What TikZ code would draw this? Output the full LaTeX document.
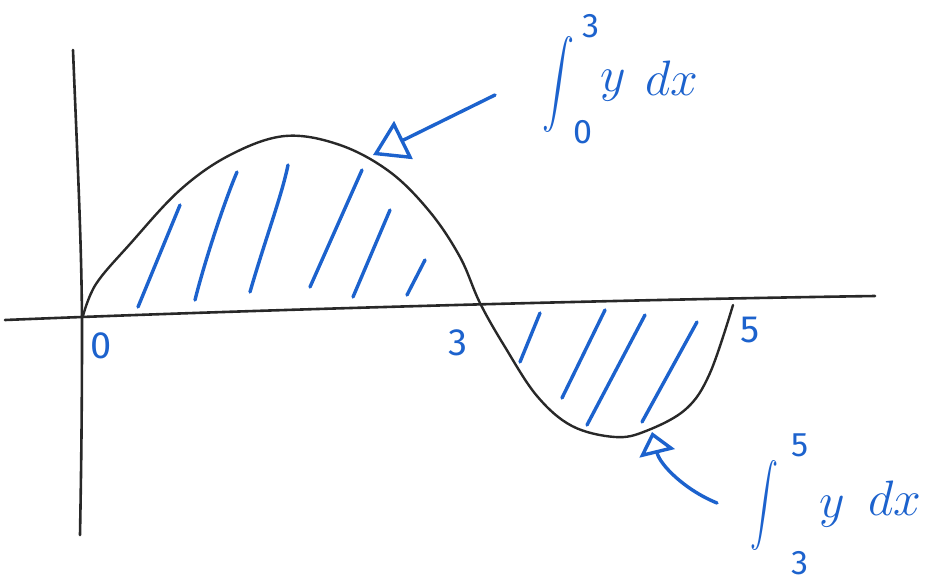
\documentclass[tikz,border=0pt]{standalone}
\usepackage{amsmath}
\usepackage{graphicx}
\usepackage{fontspec}
\setmainfont{Fira Sans}
\usetikzlibrary{arrows.meta}
\definecolor{pen}{RGB}{28,98,205}
\definecolor{ink}{RGB}{40,40,40}
\tikzset{
  axisline/.style={draw=ink, line width=1.3pt, line cap=round},
  curveline/.style={draw=ink, line width=1.2pt, line cap=round, line join=round},
  hatch/.style={draw=pen, line width=1.7pt, line cap=round},
  pointer/.style={draw=pen, line width=1.7pt, line cap=round},
  tick/.style={text=pen, font=\fontsize{19}{19}\selectfont, inner sep=0pt},
  limit/.style={text=pen, font=\fontsize{17}{17}\selectfont, inner sep=0pt},
  intsign/.style={text=pen, inner sep=0pt},
  integrand/.style={text=pen, font=\fontsize{24}{24}\selectfont, inner sep=0pt}
}
\begin{document}
\begin{tikzpicture}[x=0.5pt, y=-0.5pt]
\useasboundingbox (0,0) rectangle (933,585);
% axes
\coordinate (xl) at (5,320);
\coordinate (xr) at (875,296);
\coordinate (yt) at (73,50);
\coordinate (yb) at (80,535);
\draw[axisline] (xl) .. controls (250,310) and (600,300) .. (xr);
\draw[axisline] (yt) .. controls (77,150) and (82,250) .. (82,330) .. controls (82,420) and (81,480) .. (yb);
% curve
\coordinate (o) at (83,316);
\coordinate (c3) at (480,303);
\coordinate (c5) at (733,305);
\draw[curveline] plot[smooth, tension=0.6] coordinates {(83,316) (96,284) (130,244) (180,190) (230,155) (285,136) (340,145) (390,172) (430,212) (460,257) (480,303) (505,347) (537,396) (572,426) (615,437) (646,431) (686,409) (710,373) (733,305)};
% hatching upper
\draw[hatch] (138,307) -- (180,205);
\draw[hatch] (195,300) .. controls (205,260) and (225,200) .. (237,172);
\draw[hatch] (250,292) .. controls (265,240) and (282,195) .. (288,165);
\draw[hatch] (310,287) -- (362,170);
\draw[hatch] (353,297) -- (390,210);
\draw[hatch] (407,295) -- (425,260);
% hatching lower
\draw[hatch] (520,362) -- (540,313);
\draw[hatch] (562,398) -- (605,310);
\draw[hatch] (587,425) -- (645,315);
\draw[hatch] (642,422) -- (697,322);
% tick labels
\node[tick] (l0) at (101,346) {0};
\node[tick] (l3) at (458,343) {3};
\node[tick] (l5) at (750,330) {5};
% integral 0..3
\node[intsign] (s1) at (558,84) {\resizebox*{16pt}{48pt}{$\displaystyle\int$}};
\node[limit] (s1u) at (591,26) {3};
\node[limit] (s1l) at (583,132) {0};
\node[integrand] (s1y) at (613,86) {$y$};
\node[integrand] (s1d) at (672,78) {$dx$};
% integral 3..5
\node[intsign] (s2) at (764,505) {\resizebox*{14pt}{45pt}{$\displaystyle\int$}};
\node[limit] (s2u) at (800,445) {5};
\node[limit] (s2l) at (800,563) {3};
\node[integrand] (s2y) at (832,512) {$y$};
\node[integrand] (s2d) at (895,498) {$dx$};
% pointers
\coordinate (p1s) at (495,95);
\coordinate (p1e) at (373,155);
\coordinate (p2s) at (717,503);
\coordinate (p2e) at (652,432);
\draw[pointer, -{Triangle[open, length=17pt, width=21pt, line width=1.7pt]}] (p1s) -- (p1e);
\draw[pointer, -{Triangle[open, length=11pt, width=18pt, line width=1.7pt]}] (p2s) .. controls (685,490) and (660,465) .. (p2e);
\end{tikzpicture}
\end{document}
